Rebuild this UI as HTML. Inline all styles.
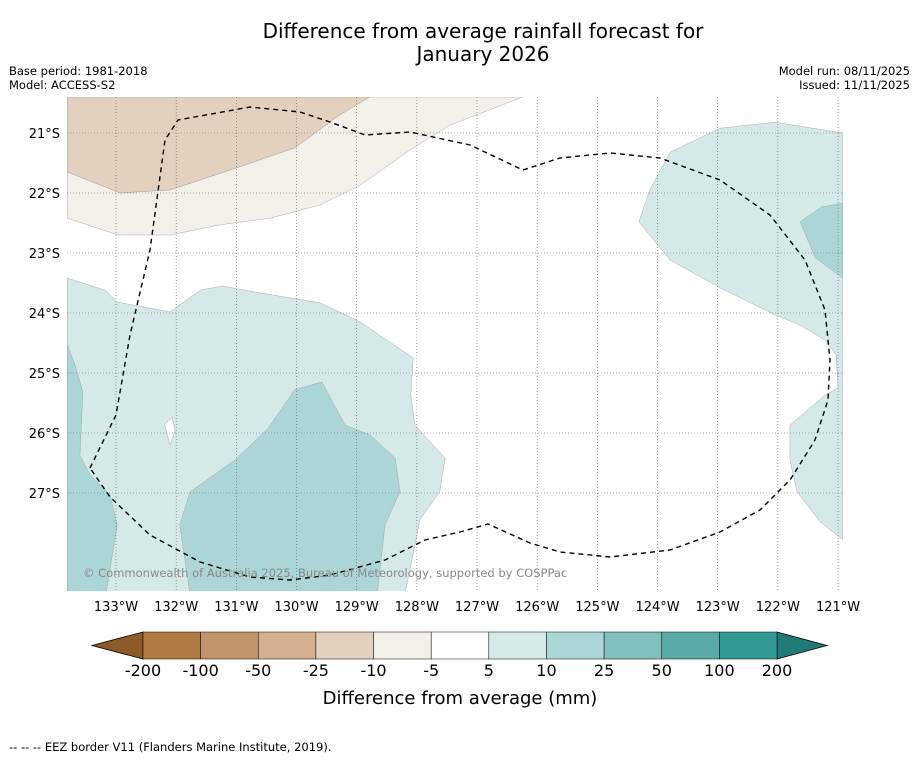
<!DOCTYPE html>
<html><head><meta charset="utf-8"><style>
body{margin:0;background:#fff;font-family:"Liberation Sans","DejaVu Sans",sans-serif;}
svg text{font-family:"DejaVu Sans","Liberation Sans",sans-serif;}
</style></head><body>
<svg id="c" width="919" height="758" xmlns="http://www.w3.org/2000/svg">
<text x="483" y="38" font-size="20" text-anchor="middle">Difference from average rainfall forecast for</text>
<text x="483" y="61" font-size="20" text-anchor="middle">January 2026</text>
<text x="9" y="75" font-size="11.5">Base period: 1981-2018</text>
<text x="9" y="89" font-size="11.5">Model: ACCESS-S2</text>
<text x="910" y="75" font-size="11.5" text-anchor="end">Model run: 08/11/2025</text>
<text x="910" y="89" font-size="11.5" text-anchor="end">Issued: 11/11/2025</text>
<defs><clipPath id="mc"><rect x="67" y="97" width="776" height="494"/></clipPath></defs>
<g id="map" clip-path="url(#mc)"></g>
<g id="grid"></g>
<path d="M90,468 L116,415 L130,335 L150,250 L165,140 L178,120 L250,107 L300,112 L330,122 L365,135 L410,132 L470,145 L523,170 L560,158 L610,153 L660,158 L720,180 L770,215 L805,260 L825,310 L830,360 L828,400 L815,440 L790,480 L760,510 L720,532 L670,550 L610,557 L560,552 L530,543 L488,524 L460,532 L425,540 L385,560 L330,575 L290,580 L250,577 L200,562 L150,535 L110,497 Z" fill="none" stroke="#000" stroke-width="1.4" stroke-dasharray="5,4" clip-path="url(#mc)"/>
<text x="83" y="577" font-size="11.5" fill="#888">© Commonwealth of Australia 2025, Bureau of Meteorology, supported by COSPPac</text>
<g id="axes"></g>
<g id="cbar"></g>
<text x="460" y="704" font-size="18" text-anchor="middle">Difference from average (mm)</text>
<text x="9" y="751" font-size="11.5">--  --  -- EEZ border V11 (Flanders Marine Institute, 2019).</text>
</svg>
<script>
const lonTicks=[133,132,131,130,129,128,127,126,125,124,123,122,121];
const latTicks=[21,22,23,24,25,26,27];
const cbLabels=["-200","-100","-50","-25","-10","-5","5","10","25","50","100","200"];
const cbColors=["#b07a42","#c29469","#d5b08e","#e3d0bf","#f3efe9","#ffffff","#d5e9e8","#acd6d6","#82c0be","#5aaaa8","#339a96"];
const regionLevels=[3,4,6,7,7,5,6,7];
const regionCoords=[
 [[133.81,20.4],[128.78,20.4],[129.28,20.7],[130.03,21.25],[131.11,21.62],[132.10,21.95],[132.93,22.0],[133.81,21.65]],
 [[126.24,20.4],[127.45,20.87],[128.11,21.28],[128.94,21.87],[129.61,22.2],[130.44,22.42],[131.27,22.53],[132.10,22.7],[132.97,22.7],[133.81,22.42],[133.81,21.65],[132.93,22.0],[132.10,21.95],[131.11,21.62],[130.03,21.25],[129.28,20.7],[128.78,20.4]],
 [[133.81,23.42],[133.18,23.62],[132.97,23.82],[132.10,23.98],[131.60,23.62],[131.24,23.55],[130.69,23.65],[129.61,23.83],[128.94,24.15],[128.06,24.75],[128.10,25.37],[128.03,25.87],[127.53,26.42],[127.62,26.98],[127.95,27.45],[128.20,28.7],[133.81,28.7]],
 [[131.77,26.98],[131.02,26.45],[130.47,25.92],[130.03,25.28],[129.58,25.15],[129.19,25.87],[128.78,26.03],[128.36,26.42],[128.28,26.98],[128.53,27.53],[128.66,28.7],[131.77,28.7],[131.94,27.53]],
 [[133.81,24.53],[133.68,24.87],[133.55,25.32],[133.6,26.37],[133.43,26.7],[133.1,27.03],[132.98,27.53],[133.17,28.7],[133.81,28.7]],
 [[132.19,25.87],[132.07,25.73],[132.02,25.95],[132.10,26.2]],
 [[124.31,22.48],[124.13,21.95],[123.79,21.32],[122.96,20.92],[122.05,20.82],[120.92,21.0],[120.92,27.78],[121.30,27.48],[121.68,26.98],[121.80,26.45],[121.80,25.87],[121.22,25.37],[121.0,25.25],[121.03,24.7],[121.22,24.45],[121.63,24.2],[122.05,24.03],[122.96,23.58],[123.79,23.12]],
 [[121.63,22.48],[121.27,22.23],[120.92,22.17],[120.92,23.42],[121.38,23.08]]
];
const NS="http://www.w3.org/2000/svg";
const X=lon=>116+(133-lon)*60.17;
const Y=lat=>133+(lat-21)*60;
function mk(t,a,p){const e=document.createElementNS(NS,t);for(const k in a)e.setAttribute(k,a[k]);p.appendChild(e);return e;}
const map=document.getElementById('map');
regionCoords.forEach((pts,i)=>{
 const e=mk('polygon',{points:pts.map(p=>X(p[0]).toFixed(1)+','+Y(p[1]).toFixed(1)).join(' '),fill:cbColors[regionLevels[i]],stroke:'#999','stroke-width':0.4},map);
 
 
});
const grid=document.getElementById('grid'),axes=document.getElementById('axes');
lonTicks.forEach(l=>{
 const g=mk('line',{x1:X(l),x2:X(l),y1:97,y2:591,stroke:'#666','stroke-width':0.6,'stroke-dasharray':'1,2'},grid);
 
 
 const t=mk('text',{x:X(l),y:611,'font-size':13,'text-anchor':'middle'},axes);t.textContent=l+'°W';
 
 
});
latTicks.forEach(l=>{
 const g=mk('line',{x1:67,x2:843,y1:Y(l),y2:Y(l),stroke:'#666','stroke-width':0.6,'stroke-dasharray':'1,2'},grid);
 
 
 const t=mk('text',{x:60,y:Y(l)+5,'font-size':13,'text-anchor':'end'},axes);t.textContent=l+'°S';
 
 
});
const cb=document.getElementById('cbar');
const x0=143,x1=777,y0=632,h=27,w=(x1-x0)/cbColors.length;
let tri=mk('polygon',{points:`${x0},${y0} ${x0},${y0+h} 92,${y0+h/2}`,fill:'#8e5a2a',stroke:'#000','stroke-width':0.8},cb);


tri=mk('polygon',{points:`${x1},${y0} ${x1},${y0+h} 827,${y0+h/2}`,fill:'#1f7a78',stroke:'#000','stroke-width':0.8},cb);


cbColors.forEach((c,i)=>{
 const r=mk('rect',{x:x0+i*w,y:y0,width:w,height:h,fill:c,stroke:'#000','stroke-width':0.5},cb);
 
 
});
cbLabels.forEach((s,i)=>{
 const t=mk('text',{x:x0+i*w,y:676,'font-size':16,'text-anchor':'middle'},cb);t.textContent=s;
 
 
});
</script>
</body></html>
